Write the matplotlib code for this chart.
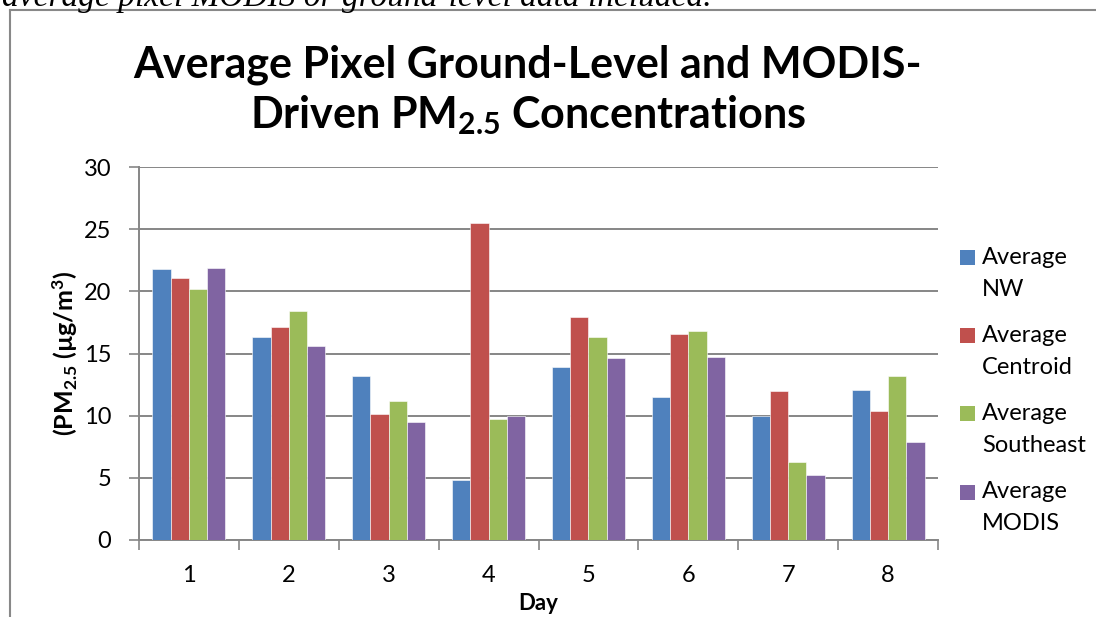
import matplotlib
matplotlib.use("Agg")
import matplotlib.pyplot as plt
import numpy as np
from matplotlib.lines import Line2D
from matplotlib.patches import Rectangle

# values
days = ["1", "2", "3", "4", "5", "6", "7", "8"]
series_names = ["Average\nNW", "Average\nCentroid", "Average\nSoutheast", "Average\nMODIS"]
avg_nw = [21.8, 16.3, 13.2, 4.8, 13.9, 11.5, 10.0, 12.1]
avg_centroid = [21.1, 17.1, 10.1, 25.5, 17.9, 16.6, 12.0, 10.4]
avg_southeast = [20.2, 18.4, 11.2, 9.7, 16.3, 16.8, 6.3, 13.2]
avg_modis = [21.9, 15.6, 9.5, 10.0, 14.6, 14.7, 5.2, 7.9]
colors = ["#4F81BD", "#C0504D", "#9BBB59", "#8064A2"]

plt.rcParams["font.family"] = ["Lato", "DejaVu Sans"]
plt.rcParams["mathtext.default"] = "regular"

W, H = 1096, 617
fig = plt.figure(figsize=(W / 100, H / 100), dpi=100)
ax = fig.add_axes([139 / W, 1 - 540 / H, (938 - 139) / W, (540 - 167) / H])

x = np.arange(len(days))
bw = 0.183
all_series = [avg_nw, avg_centroid, avg_southeast, avg_modis]
for i, vals in enumerate(all_series):
    ax.bar(x + (i - 1.5) * bw, vals, bw, color=colors[i],
           edgecolor="white", linewidth=0.4, zorder=3)

ax.set_xlim(-0.5, len(days) - 0.5)
ax.set_ylim(0, 30)
ax.set_yticks(np.arange(0, 31, 5))
ax.grid(axis="y", color="#868686", linewidth=1.4, zorder=0)

for s in ["top", "right"]:
    ax.spines[s].set_visible(False)
for s in ["left", "bottom"]:
    ax.spines[s].set_color("#868686")
    ax.spines[s].set_linewidth(1.4)

# ticks at category boundaries on the x axis, labels centred
ax.set_xticks(np.arange(-0.5, len(days)), minor=False)
ax.set_xticklabels([])
ax.set_xticks(x, minor=True)
ax.set_xticklabels(days, minor=True, fontsize=17)
ax.tick_params(axis="x", which="major", length=7, color="#868686", width=1.2)
ax.tick_params(axis="x", which="minor", length=0, pad=18)
ax.tick_params(axis="y", length=7, color="#868686", width=1.2, labelsize=17, pad=13)

ax.set_xlabel("Day", fontsize=16, fontweight="bold")
ax.xaxis.label.set_va("center")
ax.xaxis.set_label_coords(0.5, (540 - 604) / 373)
ax.set_ylabel("(PM$_{2.5}$ (µg/m$^3$)", fontsize=18, fontweight="bold")
ax.yaxis.label.set_va("center")
ax.yaxis.set_label_coords((65 - 139) / 799, 0.5)

fig.text(528 / W, 1 - 65 / H, "Average Pixel Ground-Level and MODIS-",
         fontsize=31, fontweight="bold", ha="center", va="center")
fig.text(528 / W, 1 - 115 / H, "Driven PM$_{2.5}$ Concentrations",
         fontsize=31, fontweight="bold", ha="center", va="center")

# legend: square aligned with the first line of each two-line label
legend_rows = [257, 335, 413, 492]
for name, col, yc in zip(series_names, colors, legend_rows):
    fig.add_artist(Rectangle((960 / W, 1 - (yc + 7.5) / H), 15 / W, 15 / H,
                             facecolor=col, edgecolor="none"))
    first, second = name.split("\n")
    fig.text(982 / W, 1 - yc / H, first, fontsize=17, va="center", ha="left")
    fig.text(982 / W, 1 - (yc + 32) / H, second, fontsize=17, va="center", ha="left")

# cropped caption above the chart and the frame of the chart area
fig.text(0.002, 1 - 6 / H, "average pixel MODIS or ground-level data included.",
         fontsize=24, family="Liberation Serif", style="italic", va="baseline")
fig.add_artist(Line2D([10 / W, 10 / W], [0, 1 - 10 / H], color="#888888", lw=1.5))
fig.add_artist(Line2D([10 / W, 1], [1 - 10 / H, 1 - 10 / H], color="#888888", lw=1.5))

fig.savefig("out.png", dpi=100)
